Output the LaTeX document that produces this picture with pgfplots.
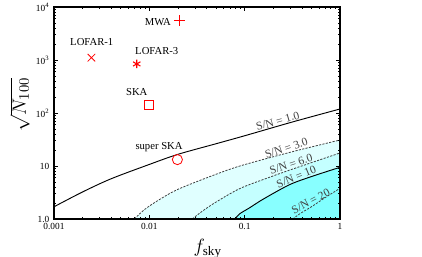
\documentclass[border=0pt]{standalone}
\usepackage{fontspec}
\setmainfont{Liberation Serif}
\usepackage{pgfplots}
\pgfplotsset{compat=1.18}
\definecolor{fillA}{HTML}{E0FFFF}
\definecolor{fillB}{HTML}{C4FFFF}
\definecolor{fillC}{HTML}{88FFFF}
\definecolor{fillD}{HTML}{80FFFF}
\definecolor{lineg}{HTML}{404040}
\tikzset{
  snl/.style={lineg, line width=0.6pt, dash pattern=on 1.6pt off 1pt, smooth, tension=0.5},
  lab/.style={font=\fontsize{8.6}{10}\selectfont, text=lineg, anchor=south, inner sep=0.6pt},
}
\begin{document}
\begin{tikzpicture}
\useasboundingbox (0,0) rectangle (316.5pt,192.75pt);
\begin{axis}[
  at={(40.5pt,28.5pt)}, anchor=south west,
  scale only axis, width=214.5pt, height=159pt,
  xmode=log, ymode=log,
  xmin=0.001, xmax=1, ymin=1, ymax=10000,
  xtick={0.001,0.01,0.1,1}, xticklabels={0.001,0.01,0.1,1},
  ytick={1,10,100,1000,10000},
  yticklabels={1.0,10,10\textsuperscript{2},10\textsuperscript{3},10\textsuperscript{4}},
  tick align=inside, xtick pos=both, ytick pos=both,
  major tick length=3pt, minor tick length=1.6pt,
  tick style={black, line width=0.4pt},
  tick label style={font=\fontsize{7}{8}\selectfont},
  xlabel={$f_{\mathrm{sky}}$}, ylabel={$\sqrt{N_{100}}$},
  xlabel style={font=\fontsize{14}{16}\selectfont, xshift=8pt, yshift=0pt},
  ylabel style={font=\fontsize{15}{17}\selectfont, at={(axis description cs:-0.084,0.54)}, anchor=south, inner sep=0pt},
  axis on top, axis line style={line width=0.8pt},
  /pgf/number format/assume math mode=true,
]
% filled regions
\addplot[fill=fillA, draw=none, smooth, tension=0.5] coordinates {
 (0.00697,1.0) (0.00891,1.51) (0.01259,2.29) (0.01995,3.63) (0.04467,6.46) (0.08913,10) (0.3162,18.6) (1,30.9)} \closedcycle;
\addplot[fill=fillB, draw=none, smooth, tension=0.5] coordinates {
 (0.02825,1.0) (0.03548,1.38) (0.05012,2.09) (0.08913,3.76) (0.1778,6.03) (0.3162,8.71) (1,17.6)} \closedcycle;
\addplot[fill=fillC, draw=none, smooth, tension=0.5] coordinates {
 (0.07925,1.0) (0.08913,1.26) (0.1122,1.62) (0.1585,2.40) (0.302,4.52) (0.5623,6.76) (1,9.44)} \closedcycle;
\addplot[fill=fillD, draw=none, smooth, tension=0.5] coordinates {
 (0.3199,1.0) (0.3802,1.26) (0.5012,1.70) (0.7079,2.57) (1,3.79)} \closedcycle;
% lines
\addplot[black, line width=0.7pt, smooth, tension=0.5] coordinates {
 (0.001,1.70) (0.001995,3.24) (0.003981,5.75) (0.01,10.7) (0.01995,16.6) (0.05012,26.3) (0.1,37.2) (0.3162,67.6) (1,119)};
\addplot[snl] coordinates {
 (0.00697,1.0) (0.00891,1.51) (0.01259,2.29) (0.01995,3.63) (0.04467,6.46) (0.08913,10) (0.3162,18.6) (1,30.9)};
\addplot[snl] coordinates {
 (0.02825,1.0) (0.03548,1.38) (0.05012,2.09) (0.08913,3.76) (0.1778,6.03) (0.3162,8.71) (1,17.6)};
\addplot[black, line width=0.7pt, smooth, tension=0.5] coordinates {
 (0.07925,1.0) (0.08913,1.26) (0.1122,1.62) (0.1585,2.40) (0.302,4.52) (0.5623,6.76) (1,9.44)};
\addplot[snl] coordinates {
 (0.3199,1.0) (0.3802,1.26) (0.5012,1.70) (0.7079,2.57) (1,3.79)};
% curve labels
\node[lab, rotate=16] at (axis cs:0.23,57.3) {S/N = 1.0};
\node[lab, rotate=19] at (axis cs:0.285,17.7) {S/N = 3.0};
\node[lab, rotate=18] at (axis cs:0.318,8.75) {S/N = 6.0};
\node[lab, rotate=22] at (axis cs:0.363,5.09) {S/N = 10};
\node[lab, rotate=28] at (axis cs:0.522,1.79) {S/N = 20};
% experiments
\addplot[red, only marks, mark=+, mark size=4pt, line width=0.6pt] coordinates {(0.0208,5500)};
\addplot[red, only marks, mark=x, mark size=4pt, line width=0.6pt] coordinates {(0.00247,1106)};
\addplot[red, only marks, mark=asterisk, mark size=3.2pt, line width=0.8pt] coordinates {(0.00738,842)};
\addplot[red, only marks, mark=square, mark size=3.3pt, line width=0.6pt] coordinates {(0.00986,140)};
\addplot[red, only marks, mark=o, mark size=3.8pt, line width=0.6pt] coordinates {(0.0197,13.2)};
\node[font=\fontsize{8}{9}\selectfont] at (axis cs:0.0123,5280) {MWA};
\node[font=\fontsize{8}{9}\selectfont] at (axis cs:0.00249,2138) {LOFAR-1};
\node[font=\fontsize{8}{9}\selectfont] at (axis cs:0.01197,1479) {LOFAR-3};
\node[font=\fontsize{8}{9}\selectfont] at (axis cs:0.00738,244) {SKA};
\node[font=\fontsize{8}{9}\selectfont] at (axis cs:0.01265,22.8) {super SKA};
\end{axis}
\end{tikzpicture}
\end{document}
